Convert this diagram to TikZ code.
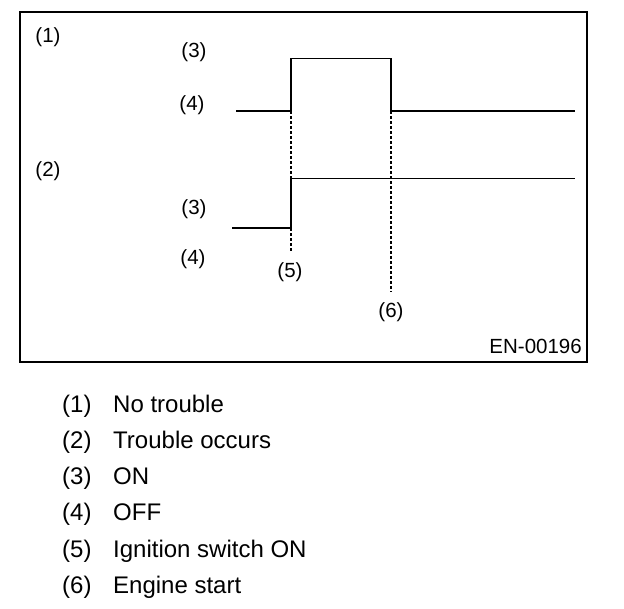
\documentclass[tikz,border=0pt]{standalone}
\usepackage{fontspec}
\setmainfont{Liberation Sans}
\begin{document}
\begin{tikzpicture}[x=1pt,y=-1pt,
  lbl/.style={inner sep=0pt,anchor=base,font=\fontsize{20.5}{24}\selectfont},
  leg/.style={inner sep=0pt,anchor=base west,font=\fontsize{24}{28}\selectfont},
  low/.style={line width=2pt},
  high/.style={line width=1pt},
  rise/.style={line width=2pt},
  guide/.style={line width=1.5pt,dash pattern=on 3pt off 2pt},
  frame/.style={line width=2pt}]
\useasboundingbox (0,0) rectangle (624,608);
\draw[frame] (20,12) rectangle (586.5,361.5);
% labels
\node[lbl] (l1) at (48,42) {(1)};
\node[lbl] (l3a) at (194,57.5) {(3)};
\node[lbl] (l4a) at (192,110) {(4)};
\node[lbl] (l2) at (48,176.5) {(2)};
\node[lbl] (l3b) at (194,214.5) {(3)};
\node[lbl] (l4b) at (193,264.5) {(4)};
\node[lbl] (l5) at (290,277.5) {(5)};
\node[lbl] (l6) at (391,317) {(6)};
\node[lbl,anchor=base east] (code) at (582,353) {EN-00196};
% waveform 1
\coordinate (a0) at (236,111);
\coordinate (a1) at (291,111);
\coordinate (a2) at (291,58);
\coordinate (a3) at (391,58);
\coordinate (a4) at (391,111);
\coordinate (a5) at (575,111);
\draw[low] (a0) -- (a1);
\draw[rise] (a1) -- (a2);
\draw[high] (a2) -- (a3);
\draw[rise] (a3) -- (a4);
\draw[low] (a4) -- (a5);
% waveform 2
\coordinate (b0) at (232,228);
\coordinate (b1) at (291,228);
\coordinate (b2) at (291,178);
\coordinate (b3) at (575,178);
\draw[low] (b0) -- (b1);
\draw[rise] (b1) -- (b2);
\draw[high] (b2) -- (b3);
% guides
\coordinate (g5) at (291,252);
\coordinate (g6) at (391,292);
\draw[guide] (a1) -- (b2);
\draw[guide] (b1) -- (g5);
\draw[guide] (a4) -- (g6);
% legend
\node[leg] (n1) at (62,412.5) {(1)};
\node[leg] (t1) at (113,412.5) {No trouble};
\node[leg] (n2) at (62,448.5) {(2)};
\node[leg] (t2) at (113,448.5) {Trouble occurs};
\node[leg] (n3) at (62,484.5) {(3)};
\node[leg] (t3) at (113,484.5) {ON};
\node[leg] (n4) at (62,520.5) {(4)};
\node[leg] (t4) at (113,520.5) {OFF};
\node[leg] (n5) at (62,557) {(5)};
\node[leg] (t5) at (113,557) {Ignition switch ON};
\node[leg] (n6) at (62,593) {(6)};
\node[leg] (t6) at (113,593) {Engine start};
\end{tikzpicture}
\end{document}
